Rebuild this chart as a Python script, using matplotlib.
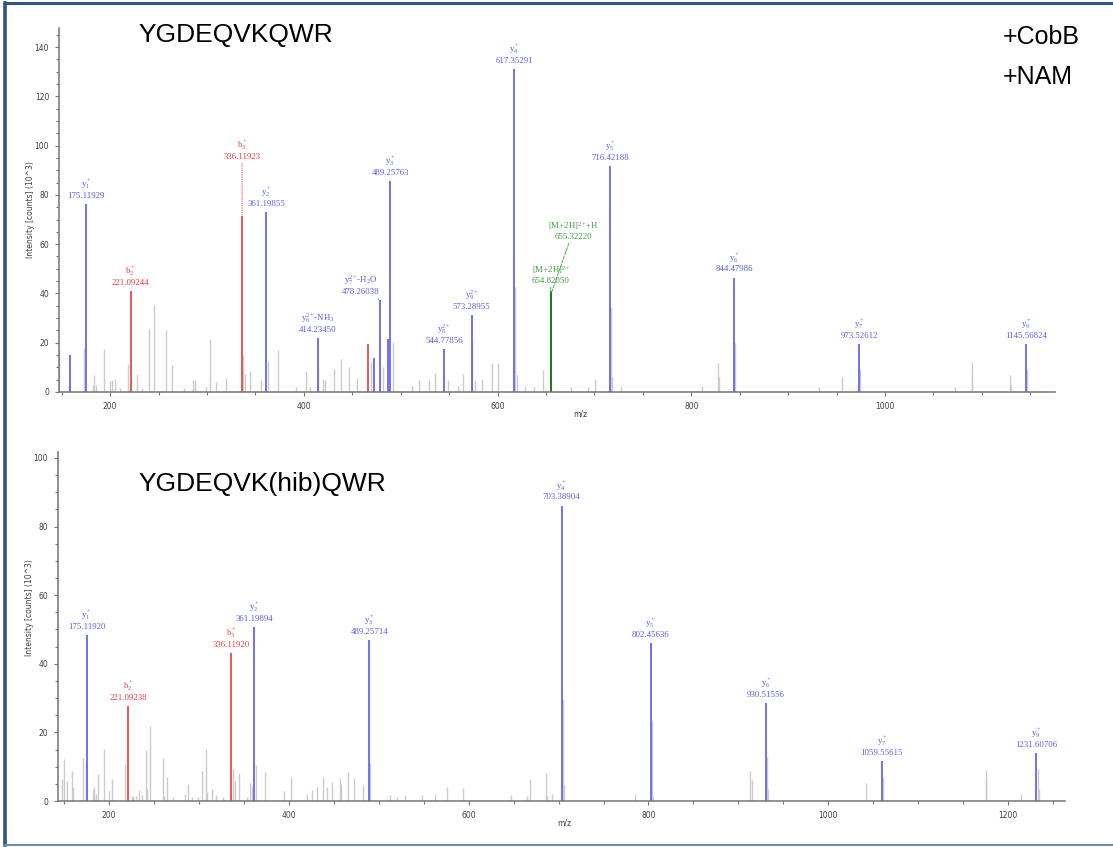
import matplotlib
matplotlib.use("Agg")
import matplotlib.pyplot as plt
from matplotlib.lines import Line2D
from matplotlib.ticker import MultipleLocator

plt.rcParams["mathtext.fontset"] = "custom"
plt.rcParams["mathtext.rm"] = "Liberation Serif"
plt.rcParams["mathtext.it"] = "Liberation Serif:italic"
plt.rcParams["mathtext.default"] = "regular"


# =========================
# 1. Spectrum data
# =========================

# --- YGDEQVKQWR (+CobB +NAM) ---
top_names = ["y$_1^+$", "b$_2^+$", "b$_3^+$", "y$_2^+$", "y$_6^{2+}$-NH$_3$",
             "y$_7^{2+}$-H$_2$O", "y$_3^+$", "y$_8^{2+}$", "y$_9^{2+}$", "y$_4^+$",
             "[M+2H]$^{2+}$", "[M+2H]$^{2+}$+H", "y$_5^+$", "y$_6^+$", "y$_7^+$", "y$_9^+$"]
top_mz = [175.11929, 221.09244, 336.11923, 361.19855, 414.23450,
          478.26038, 489.25763, 544.77856, 573.28955, 617.35291,
          654.82050, 655.32220, 716.42188, 844.47986, 973.52612, 1145.56824]
top_int = [76.2, 41.0, 71.3, 72.9, 22.0,
           37.2, 85.5, 17.3, 31.1, 130.9,
           40.8, 40.0, 91.7, 46.4, 19.4, 19.6]
top_type = ["y", "b", "b", "y", "y", "y", "y", "y", "y", "y",
            "M", "M", "y", "y", "y", "y"]

# matched but unlabelled peaks
top_extra_mz = [158.7, 465.7, 472.0, 487.0]
top_extra_int = [14.9, 19.6, 13.9, 21.6]
top_extra_type = ["y", "b", "y", "y"]

# unmatched peaks
top_noise_mz = [147.6, 157.6, 173.0, 182.0, 183.4, 185.0, 193.4, 200.0, 202.0, 205.0,
                210.0, 218.0, 221.6, 228.0, 233.0, 240.0, 245.0, 258.0, 264.0, 276.0,
                285.0, 288.0, 299.0, 302.6, 309.0, 319.6, 337.4, 338.7, 344.7, 356.0,
                362.4, 373.0, 392.0, 402.0, 406.0, 414.8, 419.6, 422.0, 430.6, 438.0,
                447.0, 454.6, 469.0, 482.0, 491.5, 512.0, 519.0, 529.5, 535.8, 548.7,
                558.7, 564.6, 573.8, 576.4, 583.8, 593.7, 600.4, 618.0, 619.5, 628.0,
                638.0, 646.5, 676.0, 693.0, 700.7, 717.4, 718.5, 727.0, 811.0, 828.0,
                829.0, 845.5, 932.0, 956.0, 974.5, 1072.5, 1089.5, 1090.0, 1129.0, 1130.0,
                1146.6]
top_noise_int = [17.0, 2.7, 17.9, 2.7, 7.0, 3.0, 17.3, 4.5, 5.0, 5.2,
                 1.6, 11.5, 5.0, 7.4, 1.6, 25.4, 35.2, 25.0, 10.8, 1.6,
                 4.8, 5.0, 2.0, 21.4, 4.0, 5.7, 15.2, 7.4, 8.5, 4.7,
                 12.4, 17.0, 2.0, 8.5, 2.0, 10.0, 5.4, 4.7, 9.5, 13.3,
                 10.0, 5.7, 12.0, 10.0, 20.3, 2.3, 4.7, 5.0, 7.7, 4.7,
                 2.4, 7.2, 20.7, 5.0, 5.4, 11.9, 11.8, 42.6, 7.0, 2.0,
                 2.0, 9.0, 2.0, 2.0, 5.1, 34.5, 6.0, 2.0, 2.3, 11.9,
                 6.0, 20.0, 2.0, 6.0, 9.5, 2.0, 12.2, 6.5, 6.8, 2.7,
                 9.5]

# --- YGDEQVK(hib)QWR ---
bot_names = ["y$_1^+$", "b$_2^+$", "b$_3^+$", "y$_2^+$", "y$_3^+$",
             "y$_4^+$", "y$_5^+$", "y$_6^+$", "y$_7^+$", "y$_9^+$"]
bot_mz = [175.11920, 221.09238, 336.11920, 361.19894, 489.25714,
          703.38904, 802.45636, 930.51556, 1059.55615, 1231.60706]
bot_int = [48.3, 27.7, 43.1, 50.7, 46.8,
           86.1, 46.1, 28.5, 11.7, 14.0]
bot_type = ["y", "b", "b", "y", "y", "y", "y", "y", "y", "y"]

bot_noise_mz = [147.3, 149.7, 152.8, 158.8, 160.0, 171.0, 174.2, 182.0, 183.7, 185.0,
                188.0, 194.0, 200.4, 202.8, 217.8, 225.0, 227.0, 230.0, 233.0, 236.5,
                240.8, 241.6, 246.0, 259.5, 261.4, 264.6, 270.6, 284.4, 287.6, 292.4,
                298.7, 303.0, 307.8, 308.6, 314.0, 319.3, 326.4, 338.0, 340.0, 344.7,
                353.4, 356.2, 359.0, 363.0, 373.6, 395.0, 402.0, 420.0, 426.0, 431.0,
                437.8, 442.6, 447.8, 457.3, 458.5, 465.6, 472.3, 482.6, 490.6, 512.8,
                520.0, 529.0, 548.4, 562.0, 576.0, 593.4, 646.7, 665.0, 668.0, 686.0,
                687.4, 692.7, 704.5, 705.7, 785.0, 803.7, 805.0, 913.0, 915.0, 931.7,
                933.0, 1042.3, 1061.0, 1175.0, 1176.0, 1214.0, 1232.9, 1234.6]
bot_noise_int = [6.5, 12.3, 5.7, 8.7, 4.0, 12.6, 11.8, 3.3, 4.0, 2.0,
                 7.8, 15.2, 3.0, 6.3, 10.9, 1.4, 1.4, 1.4, 3.3, 1.7,
                 15.0, 3.6, 22.0, 12.5, 1.5, 7.0, 1.2, 2.0, 4.9, 1.2,
                 1.2, 8.7, 15.2, 2.6, 3.6, 1.8, 1.2, 9.4, 5.7, 8.2,
                 1.2, 5.3, 4.3, 10.4, 8.4, 2.9, 7.0, 1.9, 3.1, 4.0,
                 7.0, 4.0, 5.5, 6.8, 4.9, 8.4, 6.8, 4.8, 11.2, 1.7,
                 1.2, 1.7, 1.7, 1.9, 4.0, 3.9, 1.7, 1.5, 6.3, 8.3,
                 1.5, 1.9, 29.8, 4.6, 1.9, 23.7, 1.5, 8.7, 6.0, 12.8,
                 3.6, 5.2, 7.0, 9.1, 6.5, 1.9, 9.4, 3.6]


# =========================
# 2. Styles
# =========================

PEAK_COLORS = {"y": "#6464f2", "b": "#e84a4a", "M": "#1d7a1d"}
LABEL_COLORS = {"y": "#5a5af0", "b": "#e23c3c", "M": "#3c9a3c"}
NOISE_COLOR = "#cbcbcb"
AXIS_COLOR = "#747474"

# label offsets (points) for crowded labels: m/z -> (dx, dy, leader style)
TOP_LABEL_SHIFT = {
    "336.11923": (0, 40, ":"),
    "478.26038": (-14, 3, "--"),
    "654.82050": (0, 5, "--"),
    "655.32220": (16, 38, "--"),
}


# =========================
# 3. Drawing helpers
# =========================

def style_axis(ax, xlim, ylim):
    ax.set_xlim(*xlim)
    ax.set_ylim(*ylim)
    for side in ["top", "right"]:
        ax.spines[side].set_visible(False)
    for side in ["left", "bottom"]:
        ax.spines[side].set_color(AXIS_COLOR)
        ax.spines[side].set_linewidth(1.1)

    ax.xaxis.set_major_locator(MultipleLocator(200))
    ax.xaxis.set_minor_locator(MultipleLocator(50))
    ax.yaxis.set_major_locator(MultipleLocator(20))
    ax.yaxis.set_minor_locator(MultipleLocator(5))
    ax.tick_params(which="both", direction="out", colors=AXIS_COLOR,
                   labelcolor="#404040", labelsize=5.5, width=0.8)
    ax.tick_params(which="major", length=3, pad=4)
    ax.tick_params(which="minor", length=2)

    ax.set_xlabel("m/z", fontsize=5.5, color="#404040")
    ax.set_ylabel("Intensity [counts] (10^3)", fontsize=5.5, color="#404040")


def plot_spectrum(ax, noise_mz, noise_int, mz, inten, kinds, names, shifts=None):
    shifts = shifts or {}

    ax.vlines(noise_mz, 0, noise_int, colors=NOISE_COLOR, linewidth=1.0, zorder=1)
    ax.vlines(mz, 0, inten, colors=[PEAK_COLORS[k] for k in kinds],
              linewidth=1.3, zorder=2)

    for name, m, h, k in zip(names, mz, inten, kinds):
        key = f"{m:.5f}"
        dx, dy, leader = shifts.get(key, (0, 3, None))
        arrow = None
        if leader is not None:
            arrow = dict(arrowstyle="-", linestyle=leader, color=LABEL_COLORS[k],
                         linewidth=0.6, shrinkA=0, shrinkB=1)
        ax.annotate(f"{name}\n{key}", xy=(m, h), xytext=(dx, dy),
                    textcoords="offset points", ha="center", va="bottom",
                    fontsize=6.3, family="Liberation Serif", linespacing=1.15,
                    color=LABEL_COLORS[k], arrowprops=arrow, zorder=3)


# =========================
# 4. Main
# =========================

def main():
    fig = plt.figure(figsize=(11.13, 8.47), dpi=100)

    ax_top = fig.add_axes([0.0529, 0.5372, 0.8946, 0.4297])
    ax_bot = fig.add_axes([0.0520, 0.0543, 0.9046, 0.4120])

    style_axis(ax_top, (147, 1175), (0, 147.7))
    style_axis(ax_bot, (143, 1263), (0, 101.7))

    plot_spectrum(ax_top, top_noise_mz, top_noise_int, top_mz, top_int,
                  top_type, top_names, TOP_LABEL_SHIFT)
    ax_top.vlines(top_extra_mz, 0, top_extra_int,
                  colors=[PEAK_COLORS[k] for k in top_extra_type],
                  linewidth=1.3, zorder=2)
    plot_spectrum(ax_bot, bot_noise_mz, bot_noise_int, bot_mz, bot_int,
                  bot_type, bot_names)

    ax_top.xaxis.set_label_coords(0.524, -0.047)
    ax_top.yaxis.set_label_coords(-0.024, 0.5)
    ax_bot.xaxis.set_label_coords(0.503, -0.049)
    ax_bot.yaxis.set_label_coords(-0.024, 0.553)

    # peptide names and treatment
    fig.text(138 / 1113, 1 - 35 / 847, "YGDEQVKQWR", fontsize=19,
             family="Liberation Sans", va="center")
    fig.text(138 / 1113, 1 - 484 / 847, "YGDEQVK(hib)QWR", fontsize=19,
             family="Liberation Sans", va="center")
    fig.text(1003 / 1113, 1 - 37 / 847, "+CobB", fontsize=18,
             family="Liberation Sans", va="center")
    fig.text(1003 / 1113, 1 - 77 / 847, "+NAM", fontsize=18,
             family="Liberation Sans", va="center")

    # slide frame
    fig.add_artist(Line2D([5 / 1113, 1], [1 - 3 / 847, 1 - 3 / 847],
                          transform=fig.transFigure, color="#2d5682", linewidth=2.2))
    fig.add_artist(Line2D([5 / 1113, 5 / 1113], [1 - 3 / 847, 1 - 845 / 847],
                          transform=fig.transFigure, color="#2d5682", linewidth=2.6))
    fig.add_artist(Line2D([5 / 1113, 1], [1 - 845 / 847, 1 - 845 / 847],
                          transform=fig.transFigure, color="#6b8cb0", linewidth=1.5))

    fig.savefig("out.png", dpi=100)


if __name__ == "__main__":
    main()
